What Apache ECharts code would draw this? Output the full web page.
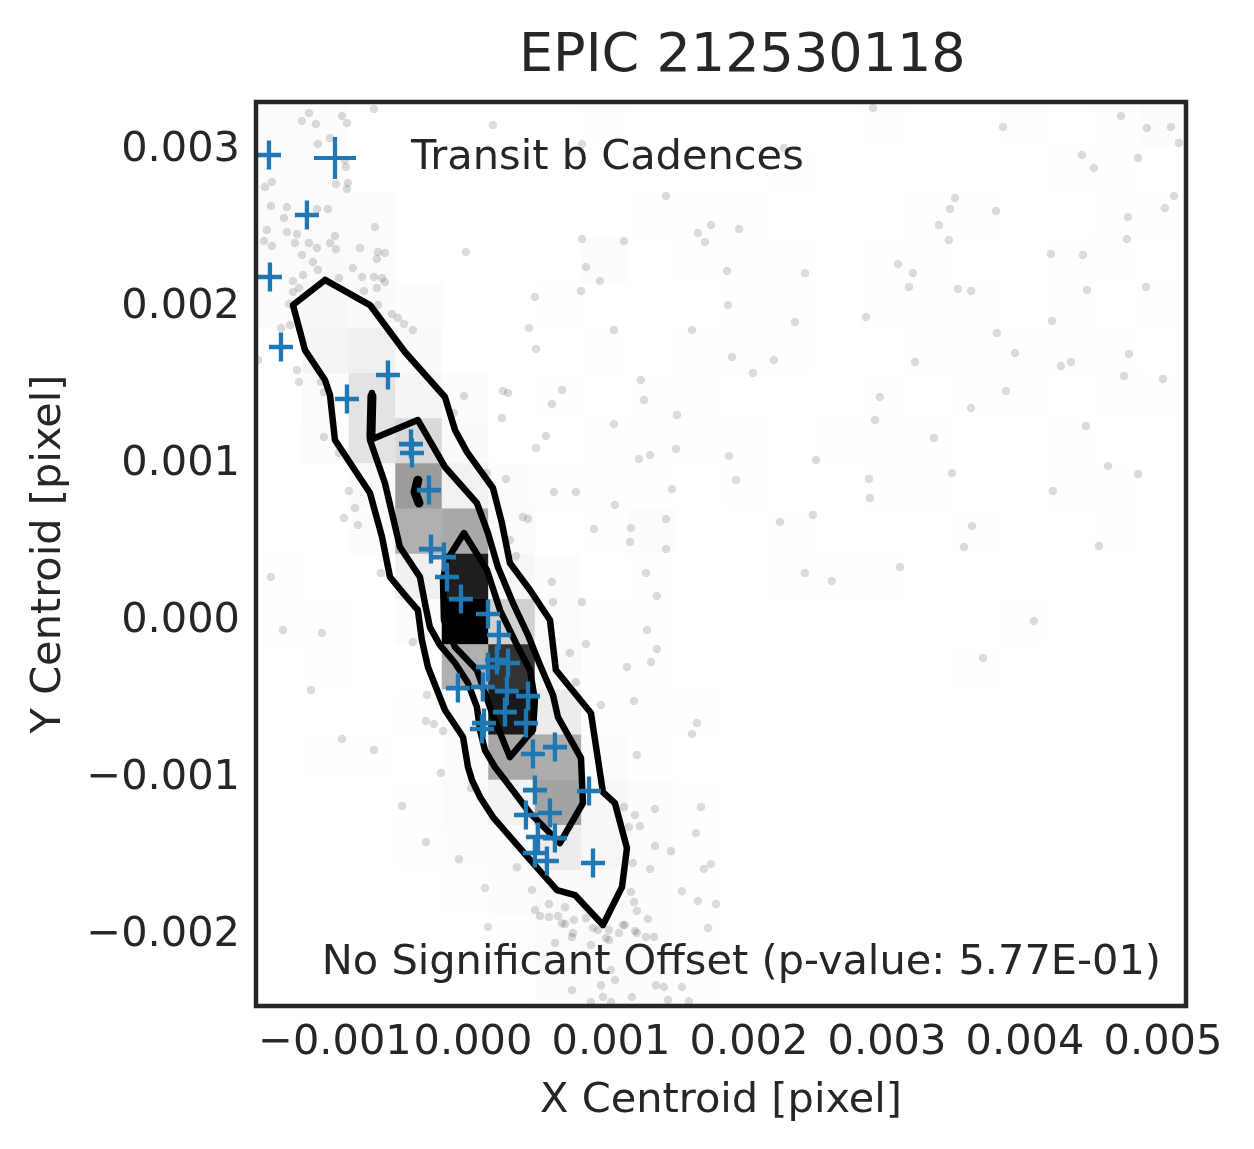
<!DOCTYPE html>
<html>
<head>
<meta charset="utf-8">
<title>EPIC 212530118</title>
<script src="https://cdn.jsdelivr.net/npm/echarts@6/dist/echarts.min.js"></script>
<style>
  html, body { margin: 0; padding: 0; background: #fff; }
  #chart { width: 1254px; height: 1149px; }
</style>
</head>
<body>
<div id="chart"></div>
<script>
// all centroid values below are in units of 1e-3 pixel
const U = 1e-3;

const xRange = [-1.572, 5.167];
const yRange = [-2.452, 3.309];
const xTicks = [-1, 0, 1, 2, 3, 4, 5];
const yTicks = [-2, -1, 0, 1, 2, 3];
const binCount = 20;

// every cadence outside the contours (grey dots)
const cadences = [
  [2.899,3.271],[3.841,3.150],[4.696,3.220],[4.884,3.143],[5.058,3.150],[5.116,3.048],[4.413,2.971],[4.500,2.888],
  [4.819,2.952],[2.254,3.016],[0.790,3.041],[1.399,2.710],[3.493,2.697],[3.457,2.627],[3.377,2.525],[3.790,2.614],
  [5.080,2.710],[5.014,2.634],[4.746,2.576],[4.739,2.436],[1.725,2.525],[1.630,2.474],[1.681,2.417],[1.928,2.500],
  [0.790,2.436],[1.094,2.423],[3.449,2.430],[3.080,2.277],[3.188,2.219],[3.159,2.130],[3.514,2.117],[3.609,2.105],
  [4.188,2.340],[4.420,2.334],[4.449,2.111],[4.877,2.130],[0.819,2.258],[0.920,2.168],[0.783,2.105],[1.841,2.232],
  [2.406,2.219],[1.848,2.015],[2.333,1.907],[2.848,1.939],[4.196,1.913],[1.022,1.856],[1.587,1.856],[3.797,1.837],
  [3.928,1.709],[4.754,1.703],[4.261,1.627],[4.333,1.652],[4.717,1.563],[5.000,1.544],[1.877,1.684],[2.181,1.665],
  [2.029,1.582],[3.203,1.652],[0.645,1.474],[0.572,1.384],[1.217,1.537],[1.239,1.410],[1.478,1.314],[1.022,1.257],
  [2.949,1.429],[2.913,1.282],[3.862,1.467],[3.609,1.359],[4.442,1.244],[3.341,1.168],[4.601,0.989],[4.819,0.938],
  [3.471,0.945],[4.203,0.830],[1.203,1.034],[1.283,1.059],[1.471,1.098],[1.855,1.053],[2.486,1.027],[1.906,0.900],
  [2.870,0.906],[2.877,0.785],[1.442,0.843],[0.587,0.823],[0.746,0.823],[1.029,0.741],[0.877,0.588],[1.145,0.594],
  [1.399,0.651],[1.138,0.505],[1.399,0.460],[2.225,0.632],[2.464,0.677],[3.616,0.607],[3.558,0.473],[4.536,0.479],
  [1.254,0.307],[2.406,0.307],[2.601,0.256],[3.094,0.345],[1.333,0.161],[0.790,0.122],[0.580,0.122],[0.572,0.250],
  [4.065,0.001],[1.261,-0.056],[0.819,-0.145],[1.333,-0.177],[0.703,-0.203],[1.290,-0.260],[1.116,-0.292],[3.696,-0.235],
  [0.746,-0.388],[0.928,-0.534],[1.167,-0.509],[1.623,-0.649],[1.587,-0.719],[1.188,-0.853],[1.652,-1.184],[1.319,-1.197],
  [1.174,-1.235],[1.210,-1.305],[1.094,-1.184],[1.130,-1.312],[1.616,-1.350],[1.319,-1.433],[1.435,-1.465],[1.159,-1.541],
  [1.283,-1.579],[1.725,-1.547],[1.674,-1.579],[1.514,-1.720],[1.145,-1.726],[1.167,-1.790],[1.630,-1.783],[1.761,-1.802],
  [1.188,-1.847],[1.268,-1.898],[1.101,-1.936],[1.703,-1.955],[1.188,-1.987],[1.312,-2.013],[0.986,-2.032],[0.906,-1.968],
  [0.717,-2.013],[0.855,-2.064],[0.732,-1.904],[0.645,-1.924],[1.000,-2.223],[1.029,-2.287],[0.928,-2.319],[0.717,-2.351],
  [1.152,-2.395],[1.326,-2.319],[1.384,-2.331],[1.514,-2.331],[1.565,-2.421],[1.413,-2.414],[0.942,-2.395],[0.855,-2.427],
  [1.000,-2.427],[-0.341,-0.636],[-0.283,-0.655],[-0.217,-0.700],[-0.232,-0.967],[-0.014,-1.063],[-0.514,-1.178],[-0.341,-1.407],
  [-0.101,-1.516],[0.319,-1.567],[0.087,-1.700],[0.428,-1.713],[0.551,-1.802],[0.667,-1.822],[0.449,-1.841],[0.486,-1.879],
  [0.551,-1.885],[0.616,-1.879],[0.819,-1.892],[0.667,-1.930],[0.725,-1.987],[0.870,-1.955],[0.986,-1.968],[1.087,-1.936],
  [1.174,-1.974],[0.109,-1.949],[0.594,-2.051],[0.964,-2.019],[1.058,-1.987],[1.254,-2.013],[-0.333,-0.470],[-1.174,-0.438],
  [-0.949,-0.751],[-0.717,-0.821],[0.210,1.295],[-0.138,1.327],[0.529,1.180],[0.457,1.104],[-1.080,1.174],[-0.971,1.072],
  [0.101,0.945],[0.239,0.906],[-0.899,0.830],[-0.855,0.721],[-0.935,0.658],[-0.833,0.613],[0.362,0.664],[0.399,0.651],
  [0.268,0.518],[0.312,0.416],[-1.464,0.282],[-0.667,0.307],[-1.377,-0.056],[-1.094,-0.075],[-0.435,-0.133],[-0.717,3.264],
  [-1.188,3.239],[-1.239,3.188],[-0.949,3.220],[-0.913,3.175],[-1.138,3.169],[0.145,3.163],[-1.036,3.080],[-1.123,3.041],
  [-0.928,2.940],[-0.920,2.895],[-0.993,2.786],[-0.906,2.793],[-0.913,2.755],[-1.507,2.767],[-1.457,2.799],[-1.464,2.646],
  [-1.348,2.640],[-1.370,2.570],[-1.130,2.627],[-1.051,2.627],[-0.710,2.512],[-1.493,2.493],[-1.514,2.423],[-1.457,2.391],
  [-1.348,2.481],[-1.275,2.468],[-1.290,2.410],[-1.188,2.410],[-1.130,2.379],[-1.036,2.410],[-1.000,2.455],[-0.993,2.372],
  [-0.819,2.379],[-0.688,2.353],[-0.638,2.347],[-0.696,2.308],[-1.239,2.334],[-1.159,2.289],[-1.123,2.238],[-0.870,2.251],
  [-1.232,2.207],[-1.304,2.168],[-0.971,2.187],[-0.804,2.194],[-0.717,2.194],[-0.659,2.187],[-0.638,2.162],[-1.304,2.098],
  [-1.261,2.124],[-0.696,2.124],[-0.790,2.105],[-1.333,2.022],[-0.688,2.015],[-0.587,1.958],[-0.543,1.932],[-0.500,1.894],
  [-0.435,1.856],[-1.391,1.869],[-1.326,1.888],[-1.558,1.665],[-1.275,1.601],[-1.261,1.525],[-1.101,1.525],[-1.080,1.461],
  [-0.051,2.353],[0.449,2.066],[0.406,1.869],[0.457,1.735],[0.217,1.467],[0.254,1.454],[-0.065,1.435]
];

// in-transit cadences for planet b
const transitB = [
  [-1.478,2.971],[-1.203,2.589],[-1.471,2.194],[-1.391,1.748],[-0.616,1.569],[-0.913,1.416],[-0.449,1.129],[-0.442,1.072],
  [-0.319,0.836],[-0.304,0.460],[-0.210,0.409],[-0.188,0.282],[-0.087,0.141],[0.109,0.046],[0.188,-0.088],[0.109,-0.292],
  [0.174,-0.247],[0.254,-0.266],[-0.109,-0.426],[0.072,-0.419],[0.246,-0.445],[0.399,-0.477],[0.232,-0.579],[0.080,-0.649],
  [0.065,-0.687],[0.384,-0.649],[0.435,-0.846],[0.594,-0.802],[0.449,-1.076],[0.841,-1.082],[0.384,-1.235],[0.558,-1.222],
  [0.471,-1.375],[0.594,-1.382],[0.449,-1.477],[0.536,-1.528],[0.870,-1.541]
];

// density contours
const contourOuter = [
  [-1.072,2.175],[-0.746,2.015],[-0.493,1.716],[-0.203,1.429],[-0.130,1.219],[-0.043,1.078],[0.145,0.849],[0.210,0.626],
  [0.268,0.371],[0.413,0.199],[0.558,0.008],[0.601,-0.311],[0.855,-0.585],[0.942,-1.089],[1.029,-1.159],[1.116,-1.446],
  [1.080,-1.694],[0.942,-1.936],[0.739,-1.745],[0.609,-1.713],[0.435,-1.541],[0.145,-1.248],[0.051,-1.120],[-0.007,-1.012],
  [-0.036,-0.929],[-0.072,-0.738],[-0.203,-0.566],[-0.326,-0.292],[-0.370,-0.120],[-0.399,0.071],[-0.493,0.167],[-0.601,0.282],
  [-0.659,0.537],[-0.746,0.817],[-1.000,1.155],[-1.036,1.442],[-1.072,1.537],[-1.217,1.728],[-1.304,2.015],[-1.072,2.175]
];
const contourMid = [
  [-0.732,1.454],[-0.746,1.155],[-0.399,1.282],[-0.203,0.983],[0.029,0.753],[0.109,0.562],[0.181,0.345],[0.290,0.116],
  [0.399,-0.088],[0.486,-0.279],[0.580,-0.470],[0.616,-0.611],[0.783,-0.872],[0.797,-1.159],[0.630,-1.414],[0.413,-1.222],
  [0.232,-1.012],[0.159,-0.929],[0.087,-0.821],[0.051,-0.693],[0.029,-0.547],[-0.036,-0.394],[-0.130,-0.266],[-0.239,-0.152],
  [-0.312,-0.037],[-0.348,0.116],[-0.384,0.282],[-0.529,0.473],[-0.587,0.690],[-0.638,0.881],[-0.746,1.155]
];
const contourInner = [
  [-0.065,0.562],[0.101,0.326],[0.196,0.071],[0.326,-0.164],[0.413,-0.311],[0.449,-0.502],[0.435,-0.693],[0.268,-0.866],
  [0.138,-0.585],[0.029,-0.311],[-0.130,-0.164],[-0.210,0.008],[-0.217,0.263],[-0.188,0.390],[-0.065,0.562]
];
const contourSpike = [[-0.732,1.435],[-0.739,1.180]];
const contourBlob = [[-0.399,0.899],[-0.420,0.823],[-0.391,0.753]];

// 2d histogram cells: [column, row from top, count]
const binCells = [
  [0,0,1],[0,1,1],[0,2,1.5],[0,3,1.5],[0,4,1],[0,10,0.5],[0,11,0.5],
  [1,0,1],[1,1,1],[1,2,1.5],[1,3,2],[1,4,3],[1,5,4],[1,6,1.5],[1,7,1],[1,11,0.5],[1,12,0.5],[1,14,0.5],
  [2,2,1],[2,3,1.5],[2,4,2],[2,5,6],[2,6,11],[2,7,11],[2,8,2],[2,9,1],[2,14,0.5],
  [3,4,1],[3,5,2],[3,6,4],[3,7,15],[3,8,39],[3,9,31],[3,10,6],[3,11,1.5],[3,13,0.5],[3,15,0.5],[3,16,0.5],
  [4,6,1],[4,7,2],[4,8,5],[4,9,34],[4,10,88],[4,11,100],[4,12,31],[4,13,2],[4,14,1],[4,15,1.5],[4,16,1],[4,17,0.5],
  [5,8,1],[5,9,1.5],[5,10,3],[5,11,18],[5,12,80],[5,13,90],[5,14,34],[5,15,5],[5,16,1.5],[5,17,1],[5,18,0.5],
  [6,4,0.5],[6,6,0.5],[6,8,0.5],[6,10,1],[6,11,1.5],[6,12,2],[6,13,7.5],[6,14,32],[6,15,36],[6,16,7.5],[6,17,2],[6,18,1.5],[6,19,1],
  [7,0,0.5],[7,3,1],[7,5,0.5],[7,7,0.5],[7,8,0.5],[7,9,0.5],[7,11,0.5],[7,12,0.5],[7,13,0.5],[7,14,1],[7,15,3],[7,16,3],[7,17,2],[7,18,1.5],[7,19,1],
  [8,2,0.5],[8,6,0.5],[8,7,0.5],[8,8,0.5],[8,9,1],[8,10,0.5],[8,11,0.5],[8,12,0.5],[8,13,0.5],[8,14,0.5],[8,15,1],[8,16,1],[8,17,1],[8,18,1],[8,19,1],
  [9,2,0.5],[9,3,0.5],[9,5,0.5],[9,6,0.5],[9,7,0.5],[9,13,0.5],[9,15,0.5],[9,16,0.5],[9,17,0.5],[9,18,0.5],[9,19,0.5],
  [10,2,0.5],[10,3,0.5],[10,4,0.5],[10,5,0.5],[10,7,0.5],[10,8,0.5],
  [11,1,0.5],[11,3,0.5],[11,4,0.5],[11,5,0.5],[11,9,0.5],[11,10,0.5],
  [12,7,0.5],[12,10,0.5],
  [13,0,0.5],[13,3,0.5],[13,4,0.5],[13,6,0.5],[13,7,0.5],[13,8,0.5],[13,10,0.5],
  [14,2,0.5],[14,3,0.5],[14,4,0.5],[14,5,0.5],[14,7,0.5],[14,8,0.5],
  [15,2,0.5],[15,4,0.5],[15,5,0.5],[15,6,0.5],[15,9,0.5],[15,12,0.5],
  [16,0,0.5],[16,5,0.5],[16,6,0.5],[16,11,0.5],
  [17,1,0.5],[17,3,0.5],[17,4,0.5],[17,5,0.5],[17,7,0.5],[17,8,0.5],
  [18,0,0.5],[18,1,0.5],[18,2,0.5],[18,3,0.5],[18,5,0.5],[18,6,0.5],[18,8,0.5],[18,9,0.5],
  [19,0,1],[19,2,0.5],[19,4,0.5],[19,6,0.5]
];

const FONT = 'DejaVu Sans';
const INK = '#262626';
const plusSymbol = 'path://M0,8.4H20V11.6H0Z M8.2,0H11.8V20H8.2Z';
const plusLegend = 'path://M0,9H20V11H0Z M9,0H11V20H9Z';

const scale = pts => pts.map(p => [p[0] * U, p[1] * U]);
const fmt = v => {
  const s = Math.abs(v).toFixed(3);
  return v < -1e-12 ? '\u2212' + s : s;
};
const binIds = Array.from({ length: binCount }, (_, i) => String(i));

const contourLine = (data, width) => ({
  type: 'line',
  data: scale(data),
  symbol: 'none',
  silent: true,
  z: 4,
  lineStyle: { color: '#000', width: width, cap: 'round', join: 'round', opacity: 1 }
});

const plotBox = { left: 256, top: 102, width: 930, height: 904 };

const chart = echarts.init(document.getElementById('chart'));
chart.setOption({
  animation: false,
  backgroundColor: '#ffffff',
  title: {
    text: 'EPIC 212530118',
    left: 519, top: 30, padding: 0,
    textStyle: { fontFamily: FONT, fontSize: 54, fontWeight: 'normal', color: INK }
  },
  legend: {
    data: ['Transit b Cadences'],
    left: 314, top: 137, padding: 0,
    itemWidth: 42, itemHeight: 42,
    icon: plusLegend,
    selectedMode: false,
    itemStyle: { opacity: 1 },
    textStyle: { fontFamily: FONT, fontSize: 41.5, color: INK, padding: [0, 0, 0, 50] }
  },
  grid: [
    Object.assign({ show: false, containLabel: false, outerBoundsMode: 'none' }, plotBox),
    Object.assign({ show: false, containLabel: false, outerBoundsMode: 'none' }, plotBox)
  ],
  xAxis: [{
    type: 'value', gridIndex: 0,
    min: xRange[0] * U, max: xRange[1] * U,
    axisLine: { show: false }, axisTick: { show: false }, splitLine: { show: false },
    axisLabel: {
      customValues: xTicks.map(v => v * U), formatter: fmt,
      fontFamily: FONT, fontSize: 41.5, color: INK, margin: 16
    },
    name: 'X Centroid [pixel]', nameLocation: 'middle', nameGap: 74,
    nameTextStyle: { fontFamily: FONT, fontSize: 41.5, color: INK }
  }, {
    type: 'category', gridIndex: 1, data: binIds, show: false
  }],
  yAxis: [{
    type: 'value', gridIndex: 0,
    min: yRange[0] * U, max: yRange[1] * U,
    axisLine: { show: false }, axisTick: { show: false }, splitLine: { show: false },
    axisLabel: {
      customValues: yTicks.map(v => v * U), formatter: fmt,
      fontFamily: FONT, fontSize: 41.5, color: INK, margin: 16
    },
    name: 'Y Centroid [pixel]', nameLocation: 'middle', nameGap: 186,
    nameTextStyle: { fontFamily: FONT, fontSize: 41.5, color: INK }
  }, {
    type: 'category', gridIndex: 1, data: binIds, inverse: true, show: false
  }],
  visualMap: {
    type: 'continuous', show: false, seriesIndex: 0,
    min: 0, max: 100,
    inRange: { color: ['#ffffff', '#000000'] }
  },
  series: [
    {
      type: 'heatmap', xAxisIndex: 1, yAxisIndex: 1,
      data: binCells.map(c => [c[0], c[1], c[2]]),
      silent: true, z: 1,
      emphasis: { disabled: true }
    },
    {
      type: 'scatter', name: 'cadences',
      data: scale(cadences),
      symbol: 'circle', symbolSize: 8.5, silent: true, z: 2,
      itemStyle: { color: 'rgba(0,0,0,0.14)', opacity: 1 }
    },
    contourLine(contourOuter, 6.5),
    contourLine(contourMid, 6.5),
    contourLine(contourInner, 6.5),
    contourLine(contourSpike, 9),
    contourLine(contourBlob, 9),
    {
      type: 'scatter', name: 'Transit b Cadences',
      data: scale(transitB),
      symbol: plusSymbol, symbolSize: [24, 29], z: 6,
      itemStyle: { color: '#1f77b4', opacity: 1 }
    }
  ],
  graphic: [
    {
      type: 'rect', silent: true, z: 100,
      shape: { x: 256, y: 102, width: 930, height: 904 },
      style: { fill: 'transparent', stroke: INK, lineWidth: 4.5 }
    },
    {
      type: 'text', silent: true, z: 100, x: 1161, y: 963,
      style: {
        text: 'No Significant Offset (p-value: 5.77E-01)',
        fontFamily: FONT, fontSize: 41.5, fill: INK,
        align: 'right', verticalAlign: 'middle',
        textAlign: 'right', textVerticalAlign: 'middle'
      }
    }
  ]
});
</script>
</body>
</html>
